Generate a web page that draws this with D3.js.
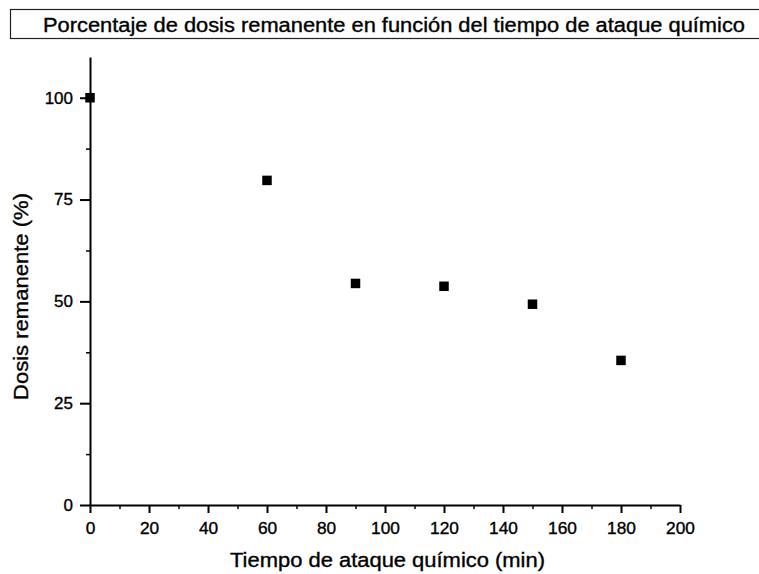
<!DOCTYPE html>
<html>
<head>
<meta charset="utf-8">
<script src="https://cdn.jsdelivr.net/npm/d3@7"></script>
<style>
  html, body { margin: 0; padding: 0; background: #fff; }
  svg { display: block; font-family: Arial, "Liberation Sans", sans-serif; }
  svg text { fill: #000; stroke: #000; stroke-width: 0.35px; }
</style>
</head>
<body>
<svg id="chart" width="759" height="574"></svg>
<script>
// Remaining dose (%) after each chemical etching time (min)
const tiempos = [0, 60, 90, 120, 150, 180];
const dosis = [100, 79.7, 54.4, 53.7, 49.3, 35.5];
const xTicks = [0, 20, 40, 60, 80, 100, 120, 140, 160, 180, 200];
const yTicks = [0, 25, 50, 75, 100];
const titulo = "Porcentaje de dosis remanente en función del tiempo de ataque químico";
const xTitulo = "Tiempo de ataque químico (min)";
const yTitulo = "Dosis remanente (%)";

const svg = d3.select("#chart");
const plotLeft = 90, plotRight = 680, plotTop = 57, plotBottom = 505;

const x = d3.scaleLinear().domain([0, 200]).range([plotLeft, plotRight]);
const y = d3.scaleLinear().domain([0, 110]).range([plotBottom, plotTop]);

// Title in a framed box
svg.append("rect")
  .attr("x", 10.5).attr("y", 9.5).attr("width", 760).attr("height", 29)
  .attr("fill", "none").attr("stroke", "#222").attr("stroke-width", 1.2);
svg.append("text")
  .attr("x", 394).attr("y", 31.5)
  .attr("text-anchor", "middle")
  .attr("font-size", 20)
  .attr("textLength", 702)
  .attr("lengthAdjust", "spacingAndGlyphs")
  .text(titulo);

// X axis: minor ticks every 10, major every 20
const xMinor = svg.append("g").attr("transform", `translate(0,${plotBottom})`)
  .call(d3.axisBottom(x).tickValues(d3.range(10, 200, 20)).tickSize(4).tickFormat(""));
xMinor.select(".domain").remove();
xMinor.selectAll(".tick line").attr("stroke-width", 1.5);
const xMajor = svg.append("g").attr("transform", `translate(0,${plotBottom})`)
  .call(d3.axisBottom(x).tickValues(xTicks).tickSize(8).tickSizeOuter(0).tickPadding(10));
xMajor.select(".domain").attr("stroke-width", 2);
xMajor.selectAll(".tick line").attr("stroke-width", 2);
xMajor.selectAll(".tick text").attr("font-size", 16).attr("fill", "#000")
  .attr("transform", "scale(1.08,1)");

// Y axis: minor ticks every 12.5, major every 25
const yMinor = svg.append("g").attr("transform", `translate(${plotLeft},0)`)
  .call(d3.axisLeft(y).tickValues([12.5, 37.5, 62.5, 87.5]).tickSize(4).tickFormat(""));
yMinor.select(".domain").remove();
yMinor.selectAll(".tick line").attr("stroke-width", 1.5);
const yMajor = svg.append("g").attr("transform", `translate(${plotLeft},0)`)
  .call(d3.axisLeft(y).tickValues(yTicks).tickSize(10).tickSizeOuter(0).tickPadding(7));
yMajor.select(".domain").attr("stroke-width", 2);
yMajor.selectAll(".tick line").attr("stroke-width", 2);
yMajor.selectAll(".tick text").attr("font-size", 17).attr("fill", "#000");

// Axis titles
svg.append("text")
  .attr("x", 387.5).attr("y", 566.5)
  .attr("text-anchor", "middle")
  .attr("font-size", 20)
  .attr("textLength", 315)
  .attr("lengthAdjust", "spacingAndGlyphs")
  .text(xTitulo);
svg.append("text")
  .attr("transform", `translate(28,296.5) rotate(-90)`)
  .attr("text-anchor", "middle")
  .attr("font-size", 20)
  .attr("textLength", 207)
  .attr("lengthAdjust", "spacingAndGlyphs")
  .text(yTitulo);

// Data points as filled squares
const s = 9.5;
svg.append("g").selectAll("rect")
  .data(tiempos.map((t, i) => [t, dosis[i]]))
  .join("rect")
  .attr("x", d => x(d[0]) - s / 2)
  .attr("y", d => y(d[1]) - s / 2)
  .attr("width", s).attr("height", s)
  .attr("fill", "#000");
</script>
</body>
</html>
